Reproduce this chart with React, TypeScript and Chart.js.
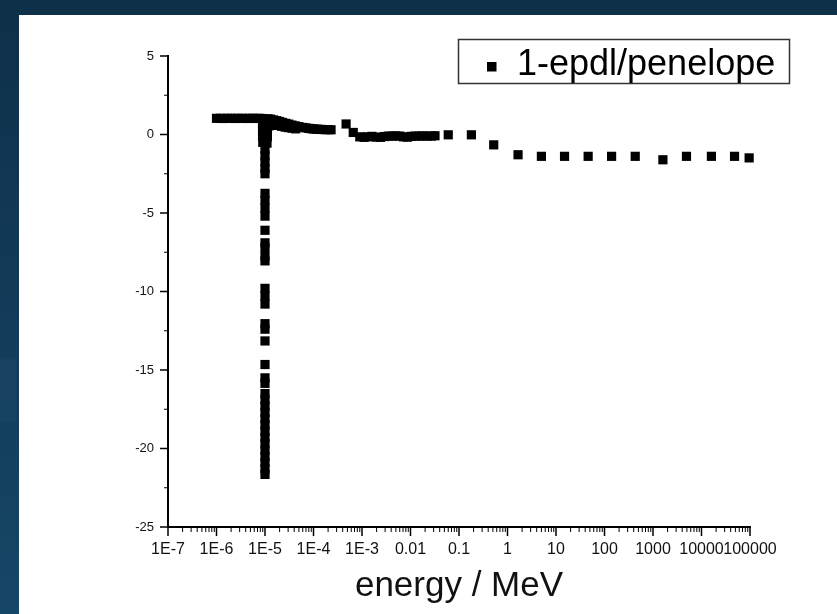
import React, { useEffect, useRef } from 'react';
import { Chart, registerables } from 'chart.js';

Chart.register(...registerables);

const seriesLabel = '1-epdl/penelope';
const xTitle = 'energy / MeV';

const xTickValues = [1e-7, 1e-6, 1e-5, 1e-4, 1e-3, 0.01, 0.1, 1, 10, 100, 1000, 10000, 100000];
const xTickLabels = ['1E-7', '1E-6', '1E-5', '1E-4', '1E-3', '0.01', '0.1', '1', '10', '100', '1000', '10000', '100000'];
const xMinorMultipliers = [2, 3, 4, 5, 6, 7, 8, 9];
const yTickValues = [-25, -20, -15, -10, -5, 0, 5];
const yTickLabels = ['-25', '-20', '-15', '-10', '-5', '0', '5'];

// flat region below the edge
const plateauEnergy = [1.0e-6, 1.2e-6, 1.4e-6, 1.7e-6, 2.0e-6, 2.4e-6, 2.8e-6, 3.3e-6, 4.0e-6, 4.7e-6, 5.5e-6, 6.5e-6, 7.5e-6, 8.5e-6, 9.3e-6];
const plateauRatio = [1.03, 1.03, 1.02, 1.03, 1.03, 1.02, 1.03, 1.03, 1.02, 1.03, 1.03, 1.02, 1.03, 1.02, 1.0];

// vertical drop at the absorption edge
const edgeEnergy = [
  8.9e-6, 1.12e-5, 8.9e-6, 1.12e-5, 8.9e-6, 1.12e-5, 9.0e-6, 1.1e-5, 1.0e-5, 1.0e-5,
  1.0e-5, 1.0e-5, 1.0e-5, 1.0e-5, 1.0e-5, 1.0e-5, 1.0e-5, 1.0e-5, 1.0e-5, 1.0e-5,
  1.0e-5, 1.0e-5, 1.0e-5, 1.0e-5, 1.0e-5, 1.0e-5, 1.0e-5, 1.0e-5, 1.0e-5, 1.0e-5,
  1.0e-5, 1.0e-5, 1.0e-5, 1.0e-5, 1.0e-5, 1.0e-5, 1.0e-5, 1.0e-5, 1.0e-5, 1.0e-5,
  1.0e-5, 1.0e-5, 1.0e-5, 1.0e-5, 1.0e-5,
];
const edgeRatio = [
  0.7, 0.65, 0.3, 0.25, -0.1, -0.15, -0.5, -0.55, -0.95, -1.35,
  -1.75, -2.15, -2.5, -3.75, -4.2, -4.7, -5.2, -6.1, -6.9, -7.2,
  -7.75, -8.05, -9.8, -10.3, -10.8, -12.05, -12.4, -13.15, -14.65, -15.5,
  -15.85, -16.5, -16.9, -17.3, -17.7, -18.1, -18.5, -18.9, -19.3, -19.7,
  -20.1, -20.5, -20.9, -21.3, -21.65,
];

// decay just above the edge
const decayEnergy = [
  1.15e-5, 1.3e-5, 1.5e-5, 1.75e-5, 2e-5, 2.3e-5, 2.7e-5, 3.1e-5, 3.6e-5, 4.2e-5,
  5e-5, 6e-5, 7e-5, 8e-5, 9e-5, 1e-4, 1.15e-4, 1.3e-4, 1.5e-4, 1.75e-4, 2e-4, 2.3e-4,
  1.2e-5, 1.45e-5, 1.8e-5, 2.2e-5, 2.6e-5, 3e-5, 3.6e-5, 4.3e-5,
];
const decayRatio = [
  1.0, 0.98, 0.93, 0.88, 0.83, 0.77, 0.71, 0.66, 0.6, 0.55,
  0.5, 0.45, 0.42, 0.39, 0.37, 0.35, 0.34, 0.33, 0.32, 0.31, 0.31, 0.3,
  0.55, 0.6, 0.58, 0.52, 0.47, 0.44, 0.4, 0.36,
];

// middle energies
const midEnergy = [
  4.7e-4, 6.6e-4, 9e-4, 1.1e-3, 1.3e-3, 1.6e-3, 2e-3, 2.4e-3, 2.9e-3, 3.5e-3,
  4.2e-3, 5e-3, 6e-3, 7.2e-3, 8.6e-3, 0.0103, 0.0124, 0.015, 0.018, 0.022,
  0.027, 0.032, 0.06, 0.18,
];
const midRatio = [
  0.67, 0.13, -0.15, -0.18, -0.15, -0.12, -0.17, -0.18, -0.13, -0.1,
  -0.1, -0.09, -0.1, -0.15, -0.17, -0.12, -0.1, -0.1, -0.09, -0.1,
  -0.1, -0.08, -0.02, -0.02,
];

// high energies
const tailEnergy = [0.52, 1.65, 5, 15, 46, 140, 430, 1600, 4900, 16000, 48000, 96000];
const tailRatio = [-0.66, -1.29, -1.39, -1.39, -1.39, -1.39, -1.39, -1.61, -1.39, -1.39, -1.39, -1.49];

const FONT = '"Liberation Sans", Arial, sans-serif';

function pairs(xs: number[], ys: number[]) {
  return xs.map((x, i) => ({ x, y: ys[i] }));
}

const backgroundPlugin = {
  id: 'pageBackground',
  beforeDraw(chart: any) {
    const { ctx, width, height } = chart;
    ctx.save();
    const g = ctx.createLinearGradient(0, 0, 0, height);
    g.addColorStop(0, '#0f3049');
    g.addColorStop(1, '#164668');
    ctx.fillStyle = g;
    ctx.fillRect(0, 0, width, height);
    ctx.fillStyle = 'rgba(60,110,150,0.1)';
    ctx.fillRect(0, 358, 16, 64);
    ctx.fillStyle = '#ffffff';
    ctx.fillRect(19, 15, width - 19, height - 15);
    ctx.restore();
  },
};

const decorPlugin = {
  id: 'axisDecor',
  afterDraw(chart: any) {
    const { ctx, chartArea } = chart;
    const xs = chart.scales.x;
    const ys = chart.scales.y;
    const bottom = chartArea.bottom;
    const left = chartArea.left;
    ctx.save();
    ctx.strokeStyle = '#000';
    const seg = (x1: number, y1: number, x2: number, y2: number, w: number) => {
      ctx.lineWidth = w;
      ctx.beginPath();
      ctx.moveTo(x1, y1);
      ctx.lineTo(x2, y2);
      ctx.stroke();
    };
    xTickValues.forEach((v, i) => {
      const px = xs.getPixelForValue(v);
      seg(px, bottom, px, bottom + 9, 1.5);
      if (i < xTickValues.length - 1) {
        xMinorMultipliers.forEach((m) => {
          const p = xs.getPixelForValue(v * m);
          seg(p, bottom, p, bottom + 5, 1);
        });
      }
    });
    yTickValues.forEach((v, i) => {
      const py = ys.getPixelForValue(v);
      seg(left - 8, py, left, py, 1.5);
      if (i < yTickValues.length - 1) {
        const pm = ys.getPixelForValue((v + yTickValues[i + 1]) / 2);
        seg(left - 4, pm, left, pm, 1);
      }
    });

    // legend box
    const label = chart.data.datasets[0].label;
    ctx.lineWidth = 1.5;
    ctx.strokeStyle = '#333';
    ctx.strokeRect(458.5, 39.5, 331, 44);
    ctx.fillStyle = '#000';
    ctx.fillRect(487, 62, 9.5, 9.5);
    ctx.font = `36px ${FONT}`;
    ctx.textBaseline = 'alphabetic';
    ctx.textAlign = 'left';
    ctx.fillText(label, 517, 75);
    ctx.restore();
  },
};

export default function App() {
  const ref = useRef<HTMLCanvasElement | null>(null);

  useEffect(() => {
    document.body.style.margin = '0';
    const canvas = ref.current;
    if (!canvas) return;
    const data = [
      ...pairs(plateauEnergy, plateauRatio),
      ...pairs(edgeEnergy, edgeRatio),
      ...pairs(decayEnergy, decayRatio),
      ...pairs(midEnergy, midRatio),
      ...pairs(tailEnergy, tailRatio),
    ];
    const chart = new Chart(canvas, {
      type: 'scatter',
      data: {
        datasets: [
          {
            label: seriesLabel,
            data,
            pointStyle: 'rect',
            pointRadius: 6.5,
            pointBorderWidth: 0,
            backgroundColor: '#000',
            borderColor: '#000',
            showLine: false,
            clip: false,
          } as any,
        ],
      },
      options: {
        responsive: false,
        animation: false,
        devicePixelRatio: 1,
        layout: { padding: { top: 56, right: 87, bottom: 0, left: 108 } },
        plugins: {
          legend: { display: false },
          tooltip: { enabled: false },
        },
        scales: {
          x: {
            type: 'logarithmic',
            min: 1e-7,
            max: 1e5,
            afterBuildTicks: (s: any) => {
              s.ticks = xTickValues.map((v) => ({ value: v }));
            },
            afterFit: (s: any) => {
              s.height = 87;
            },
            grid: { display: false, drawTicks: true, tickLength: 8 },
            border: { display: true, color: '#000', width: 2 },
            ticks: {
              autoSkip: false,
              maxRotation: 0,
              minRotation: 0,
              padding: 5,
              color: '#111',
              font: { family: FONT, size: 16 },
              callback: (_v: any, i: number) => xTickLabels[i],
            },
            title: {
              display: true,
              text: xTitle,
              color: '#111',
              font: { family: FONT, size: 35 },
              padding: { top: 0, bottom: 7 },
            },
          },
          y: {
            type: 'linear',
            min: -25,
            max: 5,
            afterBuildTicks: (s: any) => {
              s.ticks = yTickValues.map((v) => ({ value: v }));
            },
            afterFit: (s: any) => {
              s.width = 60;
            },
            grid: { display: false, drawTicks: true, tickLength: 8 },
            border: { display: true, color: '#000', width: 2 },
            ticks: {
              padding: 6,
              color: '#111',
              font: { family: FONT, size: 13 },
              callback: (_v: any, i: number) => yTickLabels[i],
            },
          },
        },
      } as any,
      plugins: [backgroundPlugin, decorPlugin],
    });
    return () => chart.destroy();
  }, []);

  return <canvas ref={ref} width={837} height={614} style={{ display: 'block' }} />;
}
